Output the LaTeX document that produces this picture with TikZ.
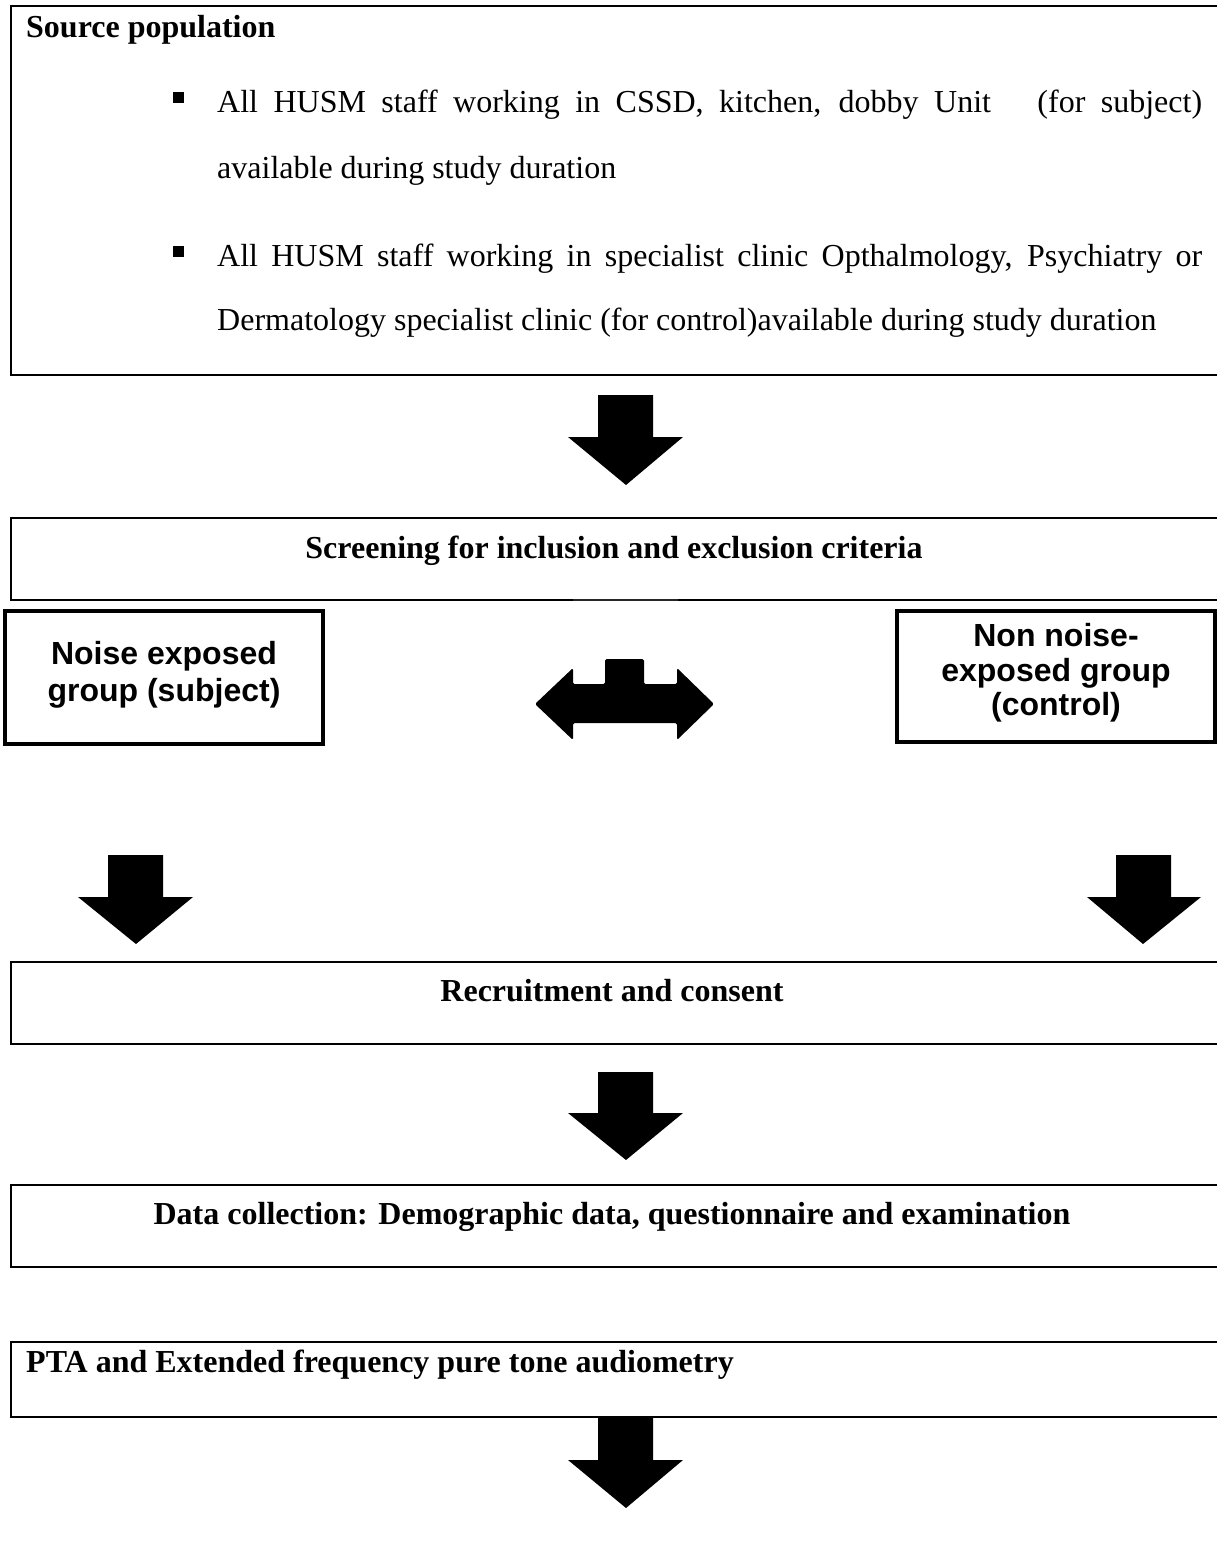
\documentclass[tikz,border=0pt]{standalone}
\usepackage{fontspec}
\setmainfont{Liberation Serif}
\newfontfamily\arialfont{Liberation Sans}
\begin{document}
\begin{tikzpicture}[x=1pt,y=-1pt,
  boxline/.style={line width=2pt},
  grpline/.style={line width=4.5pt},
  blockarrow/.style={fill=black,draw=none},
  titletext/.style={font=\fontsize{32}{36}\selectfont\bfseries,inner sep=0pt},
  bodytext/.style={font=\fontsize{32}{36}\selectfont,inner sep=0pt},
  grptext/.style={font=\arialfont\fontsize{32}{37}\selectfont\bfseries,align=center,inner sep=0pt}]
\useasboundingbox[fill=white] (0,0) rectangle (1217,1558);

% Source population box (right side runs off the page)
\draw[boxline] (1230,6) -- (11,6) -- (11,375) -- (1230,375);
\node[titletext,anchor=base west] (srctitle) at (26,37) {Source population};
\fill (173,92) rectangle (184,103);
\node[bodytext,anchor=base west] (l1) at (217,112) {\makebox[985pt][s]{All HUSM staff working in CSSD, kitchen, dobby Unit~~~(for subject)}};
\node[bodytext,anchor=base west] (l2) at (217,178) {available during study duration};
\fill (173,246) rectangle (184,257);
\node[bodytext,anchor=base west] (l3) at (217,266) {\makebox[985pt][s]{All HUSM staff working in specialist clinic Opthalmology, Psychiatry or}};
\node[bodytext,anchor=base west] (l4) at (217,330) {Dermatology specialist clinic (for control)available during study duration};

% arrow 1
\fill[blockarrow] (598,395) -- (653,395) -- (653,437) -- (683,437) -- (626,485) -- (568,437) -- (598,437) -- cycle;

% Screening box
\draw[boxline] (1230,518) -- (11,518) -- (11,600) -- (573,600);
\draw[line width=1.3pt,black!85] (573,600) -- (678,600);
\draw[boxline] (678,600) -- (1230,600);
\node[titletext,anchor=base] (screen) at (614,558) {Screening for inclusion and exclusion criteria};

% group boxes
\draw[grpline] (5,611) rectangle (323,744);
\node[grptext] (noise) at (164,675) {Noise exposed\\group (subject)};
\draw[grpline] (897,611) rectangle (1215,742);
\node[grptext,font=\arialfont\fontsize{32}{34.5}\selectfont\bfseries] (nonnoise) at (1056,673) {Non noise-\\exposed group\\(control)};

% double arrow
\fill[blockarrow,rounded corners=1.5pt] (535,704) -- (573,668) -- (573,684) -- (605,684) -- (605,659) -- (644,659) -- (644,684) -- (677,684) -- (677,668) -- (714,704) -- (677,740) -- (677,723) -- (573,723) -- (573,740) -- cycle;

% left and right arrows
\fill[blockarrow] (108,855) -- (163,855) -- (163,897) -- (193,897) -- (136,944) -- (78,897) -- (108,897) -- cycle;
\fill[blockarrow] (1116,855) -- (1171,855) -- (1171,897) -- (1201,897) -- (1143,944) -- (1087,897) -- (1116,897) -- cycle;

% Recruitment box
\draw[boxline] (1230,962) -- (11,962) -- (11,1044) -- (1230,1044);
\node[titletext,anchor=base] (recruit) at (612,1001) {Recruitment and consent};

% arrow
\fill[blockarrow] (598,1072) -- (653,1072) -- (653,1113) -- (683,1113) -- (626,1160) -- (568,1113) -- (598,1113) -- cycle;

% Data collection box
\draw[boxline] (1230,1185) -- (11,1185) -- (11,1267) -- (1230,1267);
\node[titletext,anchor=base] (datacol) at (612,1224) {Data collection: Demographic data, questionnaire and examination};

% PTA box
\draw[boxline] (1230,1342) -- (11,1342) -- (11,1417) -- (1230,1417);
\node[titletext,anchor=base west] (pta) at (26,1372) {PTA and Extended frequency pure tone audiometry};

% bottom arrow
\fill[blockarrow] (598,1418) -- (653,1418) -- (653,1460) -- (683,1460) -- (626,1508) -- (568,1460) -- (598,1460) -- cycle;
\end{tikzpicture}
\end{document}
